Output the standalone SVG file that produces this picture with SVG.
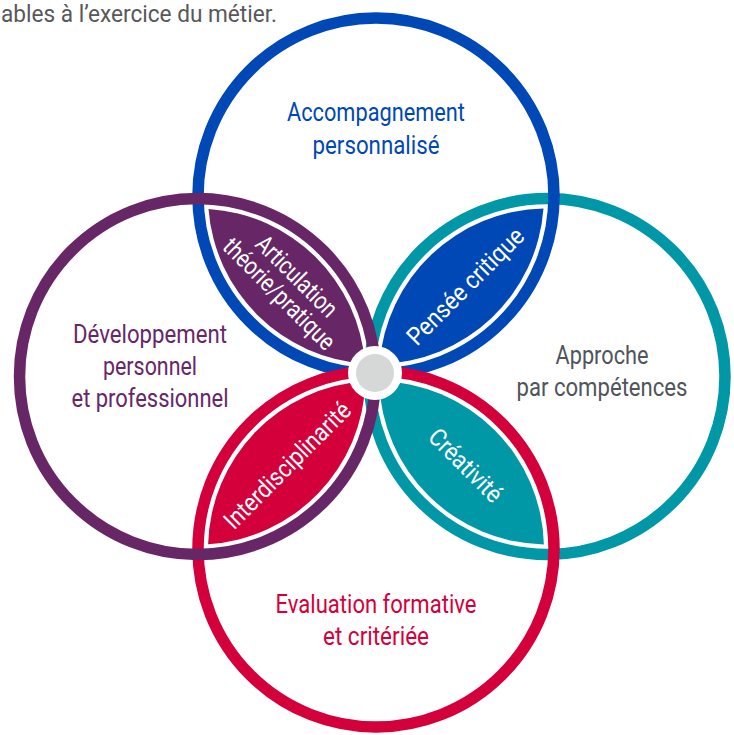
<svg xmlns="http://www.w3.org/2000/svg" width="734" height="735" viewBox="0 0 734 735">
<style>
.ring{fill:none;stroke-width:11.5}
.lbl{font-family:Roboto,"Liberation Sans",sans-serif;font-size:25px;text-anchor:middle}
.pt{font-family:Roboto,"Liberation Sans",sans-serif;font-size:25px;text-anchor:middle;fill:#ffffff}
</style>
<rect width="734" height="735" fill="#ffffff"/>
<text x="1" y="22" font-family="Roboto, 'Liberation Sans', sans-serif" font-size="24" fill="#58585a" textLength="276" lengthAdjust="spacingAndGlyphs">ables à l’exercice du métier.</text>
<g id="connectors"/>
<g id="circle-approche"><circle class="ring" cx="547" cy="376.5" r="178" stroke="#0097a7"/></g>
<g id="circle-accompagnement"><circle class="ring" cx="376" cy="196" r="178" stroke="#0048b5"/></g>
<g id="circle-evaluation"><circle class="ring" cx="376" cy="549" r="178" stroke="#d4003b"/></g>
<g id="circle-developpement"><circle class="ring" cx="197.5" cy="376.5" r="178" stroke="#672767"/></g>
<g id="petal-articulation">
<path d="M208.5,208.9 A168,168 0 0 0 365.0,363.6 A168,168 0 0 0 208.5,208.9 Z" fill="#672767"/>
<g transform="translate(288,285) rotate(45)"><text class="pt" y="-4" textLength="104" lengthAdjust="spacingAndGlyphs">Articulation</text><text class="pt" y="21" textLength="147" lengthAdjust="spacingAndGlyphs">théorie/pratique</text></g>
</g>
<g id="petal-pensee">
<path d="M379.5,364.0 A168,168 0 0 0 543.5,208.5 A168,168 0 0 0 379.5,364.0 Z" fill="#0048b5"/>
<g transform="translate(465,286) rotate(-45)"><text class="pt" y="9" textLength="154" lengthAdjust="spacingAndGlyphs">Pensée critique</text></g>
</g>
<g id="petal-creativite">
<path d="M379.1,381.0 A168,168 0 0 0 543.9,544.5 A168,168 0 0 0 379.1,381.0 Z" fill="#0097a7"/>
<g transform="translate(466,465) rotate(45)"><text class="pt" y="9" textLength="93" lengthAdjust="spacingAndGlyphs">Créativité</text></g>
</g>
<g id="petal-interdisciplinarite">
<path d="M365.4,381.3 A168,168 0 0 0 208.1,544.2 A168,168 0 0 0 365.4,381.3 Z" fill="#d4003b"/>
<g transform="translate(287,465) rotate(-45)"><text class="pt" y="9" textLength="168" lengthAdjust="spacingAndGlyphs">Interdisciplinarité</text></g>
</g>
<g id="center">
<circle cx="375" cy="373" r="27" fill="#ffffff"/>
<circle cx="375" cy="373" r="19" fill="#d5d8d6"/>
</g>
<g id="label-accompagnement" fill="#0048b5">
<text class="lbl" x="376" y="121" textLength="178" lengthAdjust="spacingAndGlyphs">Accompagnement</text>
<text class="lbl" x="376" y="154" textLength="127" lengthAdjust="spacingAndGlyphs">personnalisé</text>
</g>
<g id="label-developpement" fill="#672767">
<text class="lbl" x="150" y="343" textLength="154" lengthAdjust="spacingAndGlyphs">Développement</text>
<text class="lbl" x="150" y="375" textLength="94" lengthAdjust="spacingAndGlyphs">personnel</text>
<text class="lbl" x="150" y="407" textLength="157" lengthAdjust="spacingAndGlyphs">et professionnel</text>
</g>
<g id="label-approche" fill="#50555b">
<text class="lbl" x="602" y="364" textLength="93" lengthAdjust="spacingAndGlyphs">Approche</text>
<text class="lbl" x="602" y="396" textLength="171" lengthAdjust="spacingAndGlyphs">par compétences</text>
</g>
<g id="label-evaluation" fill="#d4003b">
<text class="lbl" x="376" y="613" textLength="201" lengthAdjust="spacingAndGlyphs">Evaluation formative</text>
<text class="lbl" x="376" y="645" textLength="106" lengthAdjust="spacingAndGlyphs">et critériée</text>
</g>
</svg>
